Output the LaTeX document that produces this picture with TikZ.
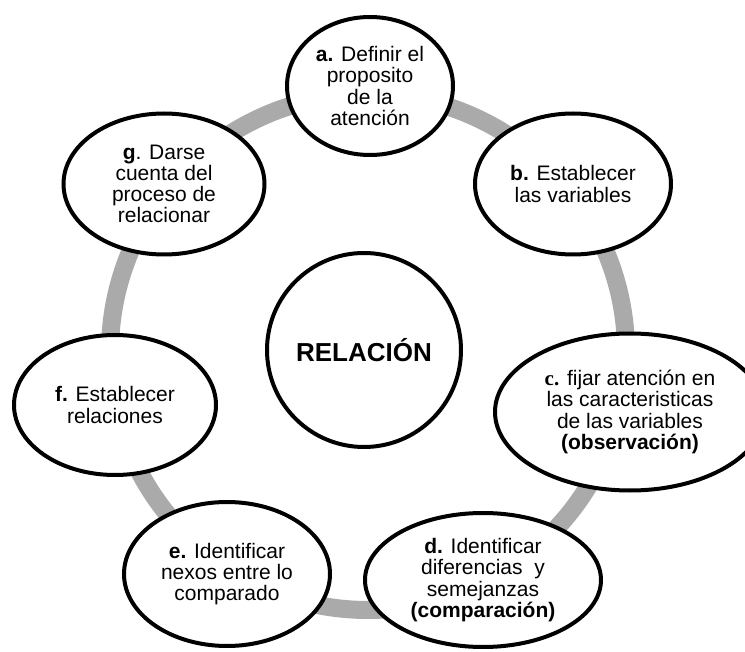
\documentclass[tikz,border=0pt]{standalone}
\usepackage{fontspec}
\setmainfont{Liberation Sans}
\newfontfamily\timesfont{Liberation Serif}
\usetikzlibrary{shapes.geometric}
\definecolor{ringgray}{RGB}{170,170,170}
\tikzset{
  paso/.style={draw, ellipse, line width=4pt, fill=white, inner sep=0pt,
    align=center, font=\fontsize{21}{21.2}\selectfont},
  centro/.style={draw, circle, line width=4pt, fill=white, inner sep=0pt,
    minimum size=194pt, font=\fontsize{26}{30}\selectfont\bfseries}
}
\begin{document}
\begin{tikzpicture}[x=1pt, y=-1pt]
\useasboundingbox (0,0) rectangle (745,652);
\clip (0,0) rectangle (745,652);
% anillo gris detras de los pasos
\coordinate (anillo) at (368,352);
\draw[ringgray, line width=18pt] (anillo) circle [radius=258pt];

\node[centro] (relacion) at (364,350) {RELACIÓN};

\node[paso, minimum width=166pt, minimum height=138pt] (a) at (370,86)
  {\textbf{a.} Definir el\\ proposito\\ de la\\ atención};
\node[paso, minimum width=196pt, minimum height=141pt] (b) at (573,184)
  {\textbf{b.} Establecer\\ las variables};
\node[paso, minimum width=270pt, minimum height=157pt] (c) at (630,412)
  {{\timesfont\bfseries c.} fijar atención en\\ las caracteristicas\\ de las variables\\ \textbf{(observación)}};
\node[paso, minimum width=236pt, minimum height=134pt] (d) at (483,580)
  {\textbf{d.} Identificar\\ diferencias~ y\\ semejanzas\\ \textbf{(comparación)}};
\node[paso, minimum width=206pt, minimum height=144pt] (e) at (227,574)
  {\textbf{e.} Identificar\\ nexos entre lo\\ comparado};
\node[paso, minimum width=202pt, minimum height=140pt] (f) at (115,405)
  {\textbf{f.} Establecer\\ relaciones};
\node[paso, minimum width=201pt, minimum height=141pt] (g) at (164,184)
  {\textbf{g}. Darse\\ cuenta del\\ proceso de\\ relacionar};
\end{tikzpicture}
\end{document}
